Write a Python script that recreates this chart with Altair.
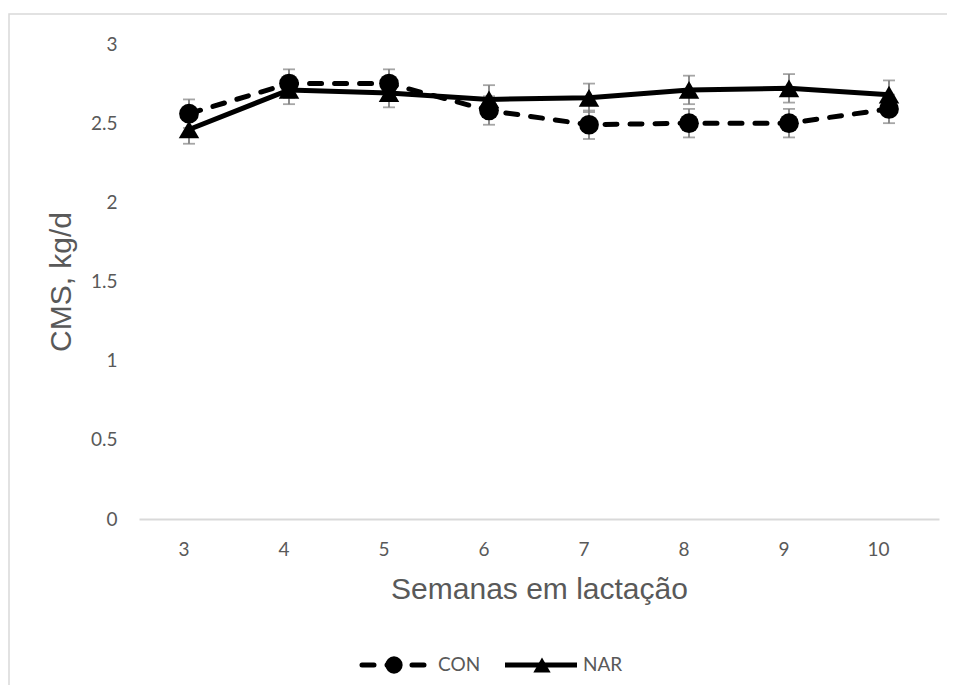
import altair as alt
import pandas as pd

weeks = ["3", "4", "5", "6", "7", "8", "9", "10"]
con_values = [2.56, 2.75, 2.75, 2.58, 2.49, 2.50, 2.50, 2.59]
nar_values = [2.46, 2.71, 2.69, 2.65, 2.66, 2.71, 2.72, 2.68]
con_se = [0.09, 0.09, 0.09, 0.09, 0.09, 0.09, 0.09, 0.09]
nar_se = [0.09, 0.09, 0.09, 0.09, 0.09, 0.09, 0.09, 0.09]
series_names = ["CON", "NAR"]

rows = []
for name, vals, ses in [("CON", con_values, con_se), ("NAR", nar_values, nar_se)]:
    for w, v, s in zip(weeks, vals, ses):
        rows.append({"week": w, "series": name, "value": v, "lo": v - s, "hi": v + s})
df = pd.DataFrame(rows)

GRAY_TXT = "#595959"
W, H = 800, 475
DASH = [12, 13]

x_enc = alt.X("week:O", sort=weeks,
              scale=alt.Scale(type="point", padding=0.5),
              axis=alt.Axis(title="Semanas em lactação", labelAngle=0,
                            labelFont="Lato", labelFontSize=19, labelColor=GRAY_TXT,
                            labelPadding=30, ticks=False, domainColor="#d9d9d9",
                            domainWidth=2, titleFont="Liberation Sans",
                            titleFontSize=30, titleFontWeight="normal",
                            titleColor=GRAY_TXT, titlePadding=15, grid=False))
y_scale = alt.Scale(domain=[0, 3])
y_enc = alt.Y("value:Q", scale=y_scale,
              axis=alt.Axis(title="CMS, kg/d", values=[0, 0.5, 1, 1.5, 2, 2.5, 3],
                            format="~g", labelFont="Lato", labelFontSize=19,
                            labelColor=GRAY_TXT, labelPadding=22, ticks=False,
                            domain=False, grid=False, titleFont="Liberation Sans",
                            titleFontSize=30, titleFontWeight="normal",
                            titleColor=GRAY_TXT, titlePadding=14))

base = alt.Chart(df)

err_rule = base.mark_rule(color="#808080", strokeWidth=1.8).encode(
    x=alt.X("week:O", sort=weeks), y=alt.Y("lo:Q", scale=y_scale), y2="hi:Q")
err_cap_hi = base.mark_tick(color="#808080", thickness=1.8, size=12).encode(
    x=alt.X("week:O", sort=weeks), y=alt.Y("hi:Q", scale=y_scale))
err_cap_lo = base.mark_tick(color="#808080", thickness=1.8, size=12).encode(
    x=alt.X("week:O", sort=weeks), y=alt.Y("lo:Q", scale=y_scale))

con_line = base.transform_filter(alt.datum.series == "CON").mark_line(
    color="black", strokeWidth=5, strokeDash=DASH, strokeCap="round").encode(
    x=x_enc, y=y_enc)
nar_line = base.transform_filter(alt.datum.series == "NAR").mark_line(
    color="black", strokeWidth=5).encode(x=x_enc, y=y_enc)
con_pts = base.transform_filter(alt.datum.series == "CON").mark_point(
    shape="circle", filled=True, color="black", size=390, opacity=1).encode(
    x=x_enc, y=y_enc)
nar_pts = base.transform_filter(alt.datum.series == "NAR").mark_point(
    shape="triangle-up", filled=True, color="black", size=420, opacity=1).encode(
    x=x_enc, y=y_enc)

# legend (drawn below the axis title)
leg_df = pd.DataFrame({"series": series_names})
leg = alt.Chart(leg_df)
LY = 621
con_leg_line = leg.transform_filter(alt.datum.series == "CON").mark_rule(
    color="black", strokeWidth=5, strokeDash=DASH, strokeCap="round").encode(
    x=alt.value(223), x2=alt.value(290), y=alt.value(LY))
con_leg_pt = leg.transform_filter(alt.datum.series == "CON").mark_point(
    shape="circle", filled=True, color="black", size=300, opacity=1).encode(
    x=alt.value(255), y=alt.value(LY))
con_leg_txt = leg.transform_filter(alt.datum.series == "CON").mark_text(
    align="left", baseline="middle", font="Lato", fontSize=19, color=GRAY_TXT).encode(
    x=alt.value(299), y=alt.value(LY), text="series:N")
nar_leg_line = leg.transform_filter(alt.datum.series == "NAR").mark_rule(
    color="black", strokeWidth=5).encode(
    x=alt.value(366), x2=alt.value(438), y=alt.value(LY))
nar_leg_pt = leg.transform_filter(alt.datum.series == "NAR").mark_point(
    shape="triangle-up", filled=True, color="black", size=300, opacity=1).encode(
    x=alt.value(403), y=alt.value(LY))
nar_leg_txt = leg.transform_filter(alt.datum.series == "NAR").mark_text(
    align="left", baseline="middle", font="Lato", fontSize=19, color=GRAY_TXT).encode(
    x=alt.value(444), y=alt.value(LY), text="series:N")

border = leg.transform_filter(alt.datum.series == "CON").mark_rect(
    fill=None, stroke="#d9d9d9", strokeWidth=1.5).encode(
    x=alt.value(-130), x2=alt.value(840), y=alt.value(-30), y2=alt.value(720))

chart = alt.layer(
    border,
    err_rule, err_cap_hi, err_cap_lo,
    con_line, nar_line, con_pts, nar_pts,
    con_leg_line, con_leg_pt, con_leg_txt, nar_leg_line, nar_leg_pt, nar_leg_txt,
).properties(
    width=W, height=H,
    background="white",
    autosize=alt.AutoSizeParams(type="none"),
    padding={"left": 131, "top": 36, "right": 8, "bottom": 166},
).configure_view(stroke=None)

chart.save("out.html", embed_options={"renderer": "svg", "actions": False})
